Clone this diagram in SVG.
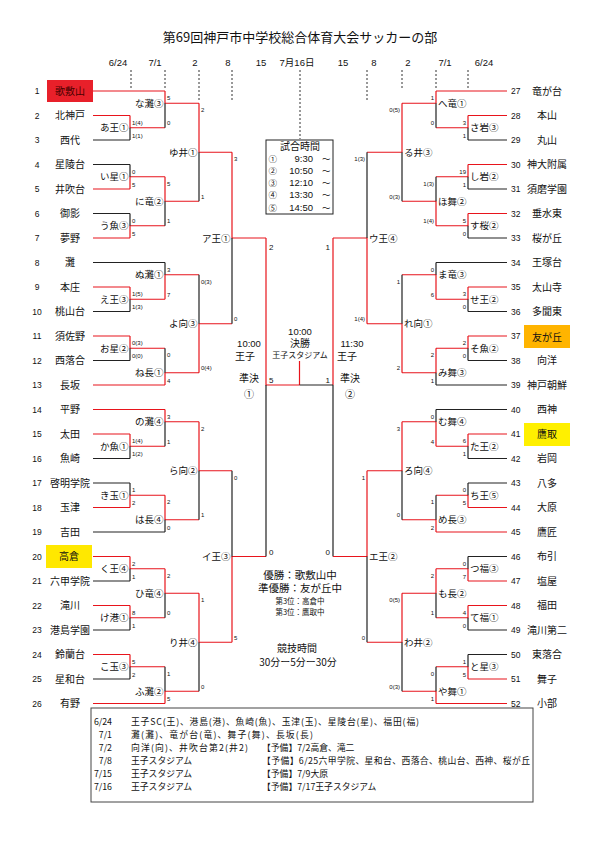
<svg xmlns="http://www.w3.org/2000/svg" width="595" height="842" viewBox="0 0 595 842">
<style>
.ln{fill:none;stroke-width:1.2}
.r{stroke:#e8141c}
.k{stroke:#222}
.dash{fill:none;stroke:#333;stroke-width:1;stroke-dasharray:2 2}
text{fill:#111}
.jp{font-family:"Noto Sans CJK JP",sans-serif}
.nm{font-family:"Noto Sans CJK JP",sans-serif;font-size:10px;text-anchor:middle}
.noL{font-family:"Liberation Sans",sans-serif;font-size:8.5px;text-anchor:middle}
.noR{font-family:"Liberation Sans",sans-serif;font-size:8.5px;text-anchor:start}
.ml{font-family:"Noto Sans CJK JP",sans-serif;font-size:9.5px;text-anchor:end}
.mr{font-family:"Noto Sans CJK JP",sans-serif;font-size:9.5px;text-anchor:start}
.sl{font-family:"Liberation Sans",sans-serif;font-size:6px;text-anchor:start}
.sr{font-family:"Liberation Sans",sans-serif;font-size:6px;text-anchor:end}
.big{font-family:"Liberation Sans",sans-serif;font-size:8px}
.dt{font-family:"Liberation Sans","Noto Sans CJK JP",sans-serif;font-size:9.5px;text-anchor:middle}
.tb{font-family:"Noto Sans CJK JP",sans-serif;font-size:8.8px}
.cn{font-family:"Noto Sans CJK JP",sans-serif;font-size:8.5px}
.tm{font-family:"Liberation Sans",sans-serif;font-size:9.5px;text-anchor:end}
</style>
<rect width="595" height="842" fill="#fff"/>

<g id="header">
<text class="jp" x="300" y="42" font-size="13" text-anchor="middle">第69回神戸市中学校総合体育大会サッカーの部</text>
<text class="dt" x="118" y="66">6/24</text>
<text class="dt" x="155" y="66">7/1</text>
<text class="dt" x="195" y="66">2</text>
<text class="dt" x="228" y="66">8</text>
<text class="dt" x="261" y="66">15</text>
<text class="dt" x="297" y="66">7月16日</text>
<text class="dt" x="343" y="66">15</text>
<text class="dt" x="374" y="66">8</text>
<text class="dt" x="408" y="66">2</text>
<text class="dt" x="445" y="66">7/1</text>
<text class="dt" x="484" y="66">6/24</text>
<path class="dash" d="M131 70V89M165 70V89M199 70V101M232 70V101M300 70V139M367 70V101M402 70V89M436 70V89M468 70V89"/>
</g>

<g id="connectors">
<path class="ln r" d="M93 91H165M93 115.5H130M93 189H130M93 238H130M93 287H130M93 336H130M93 385H165M93 409.5H165M93 434H130M93 507.5H130M93 556.5H130M93 605.5H130M93 654.5H130M93 703.5H165"/>
<path class="ln k" d="M93 140H130M93 164.5H130M93 213.5H130M93 262.5H165M93 311.5H130M93 360.5H130M93 458.5H130M93 483H130M93 532H165M93 581H130M93 630H130M93 679H130"/>
<path class="ln r" d="M130 115.5V127.75H165M165 91V103.25H199M130 189V176.75H165M130 238V225.75H165M165 176.75V201.25H199M199 103.25V152.25H232M130 287V299.25H165M165 299.25V274.75H199M130 336V348.25H165M165 385V372.75H199M199 372.75V323.75H232M232 152.25V238H266M130 434V446.25H165M165 409.5V421.75H199M130 507.5V495.25H165M165 495.25V519.75H199M199 421.75V470.75H232M130 556.5V568.75H165M130 605.5V617.75H165M165 568.75V593.25H199M130 654.5V666.75H165M165 703.5V691.25H199M199 593.25V642.25H232M232 642.25V556.5H266M266 238V385H299.5M299.5 361V385M333 238V385"/>
<path class="ln k" d="M130 127.75V140M165 103.25V127.75M130 164.5V176.75M130 213.5V225.75M165 201.25V225.75M199 152.25V201.25M130 299.25V311.5M165 262.5V274.75M130 348.25V360.5M165 348.25V372.75M199 274.75V323.75M232 238V323.75M130 446.25V458.5M165 421.75V446.25M130 483V495.25M165 519.75V532M199 470.75V519.75M130 568.75V581M130 617.75V630M165 593.25V617.75M130 666.75V679M165 666.75V691.25M199 642.25V691.25M232 470.75V556.5M266 385V556.5M333 385V556.5M333 385H299.5"/>
<path class="ln r" d="M507 91H436M507 115.5H468M507 164.5H468M507 213.5H468M507 287H468M507 336H468M507 434H468M507 507.5H468M507 532H436M507 581H468M507 605.5H468M507 679H468M507 703.5H436"/>
<path class="ln k" d="M507 140H468M507 189H468M507 238H468M507 262.5H436M507 311.5H468M507 360.5H468M507 385H436M507 409.5H436M507 458.5H468M507 483H468M507 556.5H468M507 630H468M507 654.5H468"/>
<path class="ln r" d="M468 115.5V127.75H436M436 91V103.25H402M468 164.5V176.75H436M468 213.5V225.75H436M436 225.75V201.25H402M402 103.25V152.25H367M468 287V299.25H436M436 299.25V274.75H402M468 336V348.25H436M436 348.25V372.75H402M402 372.75V323.75H367M367 323.75V238H333M468 434V446.25H436M436 446.25V421.75H402M468 507.5V495.25H436M436 532V519.75H402M402 421.75V470.75H367M468 581V568.75H436M468 605.5V617.75H436M436 568.75V593.25H402M468 679V666.75H436M436 703.5V691.25H402M402 593.25V642.25H367M367 470.75V556.5H333"/>
<path class="ln k" d="M468 127.75V140M436 103.25V127.75M468 176.75V189M468 225.75V238M436 176.75V201.25M402 152.25V201.25M468 299.25V311.5M436 262.5V274.75M468 348.25V360.5M436 372.75V385M402 274.75V323.75M367 152.25V238M468 446.25V458.5M436 409.5V421.75M468 483V495.25M436 495.25V519.75M402 470.75V519.75M468 556.5V568.75M468 617.75V630M436 593.25V617.75M468 654.5V666.75M436 666.75V691.25M402 642.25V691.25M367 556.5V642.25"/>
</g>

<g id="teams-left">
<g id="t1"><rect x="47" y="80" width="46" height="22" fill="#e8202a"/><text class="noL" x="37" y="94">1</text><text class="nm" x="70" y="94.5" style="fill:#4a0000">歌敷山</text></g>
<g id="t2"><text class="noL" x="37" y="118.5">2</text><text class="nm" x="70" y="119">北神戸</text></g>
<g id="t3"><text class="noL" x="37" y="143">3</text><text class="nm" x="70" y="143.5">西代</text></g>
<g id="t4"><text class="noL" x="37" y="167.5">4</text><text class="nm" x="70" y="168">星陵台</text></g>
<g id="t5"><text class="noL" x="37" y="192">5</text><text class="nm" x="70" y="192.5">井吹台</text></g>
<g id="t6"><text class="noL" x="37" y="216.5">6</text><text class="nm" x="70" y="217">御影</text></g>
<g id="t7"><text class="noL" x="37" y="241">7</text><text class="nm" x="70" y="241.5">夢野</text></g>
<g id="t8"><text class="noL" x="37" y="265.5">8</text><text class="nm" x="70" y="266">灘</text></g>
<g id="t9"><text class="noL" x="37" y="290">9</text><text class="nm" x="70" y="290.5">本庄</text></g>
<g id="t10"><text class="noL" x="37" y="314.5">10</text><text class="nm" x="70" y="315">桃山台</text></g>
<g id="t11"><text class="noL" x="37" y="339">11</text><text class="nm" x="70" y="339.5">須佐野</text></g>
<g id="t12"><text class="noL" x="37" y="363.5">12</text><text class="nm" x="70" y="364">西落合</text></g>
<g id="t13"><text class="noL" x="37" y="388">13</text><text class="nm" x="70" y="388.5">長坂</text></g>
<g id="t14"><text class="noL" x="37" y="412.5">14</text><text class="nm" x="70" y="413">平野</text></g>
<g id="t15"><text class="noL" x="37" y="437">15</text><text class="nm" x="70" y="437.5">太田</text></g>
<g id="t16"><text class="noL" x="37" y="461.5">16</text><text class="nm" x="70" y="462">魚崎</text></g>
<g id="t17"><text class="noL" x="37" y="486">17</text><text class="nm" x="70" y="486.5">啓明学院</text></g>
<g id="t18"><text class="noL" x="37" y="510.5">18</text><text class="nm" x="70" y="511">玉津</text></g>
<g id="t19"><text class="noL" x="37" y="535">19</text><text class="nm" x="70" y="535.5">吉田</text></g>
<g id="t20"><rect x="46" y="545" width="46" height="23" fill="#ffe800"/><text class="noL" x="37" y="559.5">20</text><text class="nm" x="69" y="560">高倉</text></g>
<g id="t21"><text class="noL" x="37" y="584">21</text><text class="nm" x="70" y="584.5">六甲学院</text></g>
<g id="t22"><text class="noL" x="37" y="608.5">22</text><text class="nm" x="70" y="609">滝川</text></g>
<g id="t23"><text class="noL" x="37" y="633">23</text><text class="nm" x="70" y="633.5">港島学園</text></g>
<g id="t24"><text class="noL" x="37" y="657.5">24</text><text class="nm" x="70" y="658">鈴蘭台</text></g>
<g id="t25"><text class="noL" x="37" y="682">25</text><text class="nm" x="70" y="682.5">星和台</text></g>
<g id="t26"><text class="noL" x="37" y="706.5">26</text><text class="nm" x="70" y="707">有野</text></g>
</g>

<g id="teams-right">
<g id="t27"><text class="noR" x="511" y="94">27</text><text class="nm" x="547" y="94.5">竜が台</text></g>
<g id="t28"><text class="noR" x="511" y="118.5">28</text><text class="nm" x="547" y="119">本山</text></g>
<g id="t29"><text class="noR" x="511" y="143">29</text><text class="nm" x="547" y="143.5">丸山</text></g>
<g id="t30"><text class="noR" x="511" y="167.5">30</text><text class="nm" x="547" y="168">神大附属</text></g>
<g id="t31"><text class="noR" x="511" y="192">31</text><text class="nm" x="547" y="192.5">須磨学園</text></g>
<g id="t32"><text class="noR" x="511" y="216.5">32</text><text class="nm" x="547" y="217">垂水東</text></g>
<g id="t33"><text class="noR" x="511" y="241">33</text><text class="nm" x="547" y="241.5">桜が丘</text></g>
<g id="t34"><text class="noR" x="511" y="265.5">34</text><text class="nm" x="547" y="266">王塚台</text></g>
<g id="t35"><text class="noR" x="511" y="290">35</text><text class="nm" x="547" y="290.5">太山寺</text></g>
<g id="t36"><text class="noR" x="511" y="314.5">36</text><text class="nm" x="547" y="315">多聞東</text></g>
<g id="t37"><rect x="524" y="325" width="46" height="23" fill="#ffb400"/><text class="noR" x="511" y="339">37</text><text class="nm" x="547" y="340.5" font-size="11.5">友が丘</text></g>
<g id="t38"><text class="noR" x="511" y="363.5">38</text><text class="nm" x="547" y="364">向洋</text></g>
<g id="t39"><text class="noR" x="511" y="388">39</text><text class="nm" x="547" y="388.5">神戸朝鮮</text></g>
<g id="t40"><text class="noR" x="511" y="412.5">40</text><text class="nm" x="547" y="413">西神</text></g>
<g id="t41"><rect x="524" y="423" width="46" height="23" fill="#fff000"/><text class="noR" x="511" y="437">41</text><text class="nm" x="547" y="438">鷹取</text></g>
<g id="t42"><text class="noR" x="511" y="461.5">42</text><text class="nm" x="547" y="462">岩岡</text></g>
<g id="t43"><text class="noR" x="511" y="486">43</text><text class="nm" x="547" y="486.5">八多</text></g>
<g id="t44"><text class="noR" x="511" y="510.5">44</text><text class="nm" x="547" y="511">大原</text></g>
<g id="t45"><text class="noR" x="511" y="535">45</text><text class="nm" x="547" y="535.5">鷹匠</text></g>
<g id="t46"><text class="noR" x="511" y="559.5">46</text><text class="nm" x="547" y="560">布引</text></g>
<g id="t47"><text class="noR" x="511" y="584">47</text><text class="nm" x="547" y="584.5">塩屋</text></g>
<g id="t48"><text class="noR" x="511" y="608.5">48</text><text class="nm" x="547" y="609">福田</text></g>
<g id="t49"><text class="noR" x="511" y="633">49</text><text class="nm" x="547" y="633.5">滝川第二</text></g>
<g id="t50"><text class="noR" x="511" y="657.5">50</text><text class="nm" x="547" y="658">東落合</text></g>
<g id="t51"><text class="noR" x="511" y="682">51</text><text class="nm" x="547" y="682.5">舞子</text></g>
<g id="t52"><text class="noR" x="511" y="706.5">52</text><text class="nm" x="547" y="707">小部</text></g>
</g>

<g id="matches-left">
<g id="mA"><text class="ml" x="128.5" y="131.25">あ王①</text><text class="sl" x="132" y="124.5">1(4)</text><text class="sl" x="132" y="137.5">1(1)</text></g>
<g id="mB"><text class="ml" x="163.5" y="106.75">な灘③</text><text class="sl" x="167" y="100">5</text><text class="sl" x="167" y="125.25">0</text></g>
<g id="mC"><text class="ml" x="128.5" y="180.25">い星①</text><text class="sl" x="132" y="173.5">0</text><text class="sl" x="132" y="186.5">5</text></g>
<g id="mD"><text class="ml" x="128.5" y="229.25">う魚③</text><text class="sl" x="132" y="222.5">0</text><text class="sl" x="132" y="235.5">5</text></g>
<g id="mE"><text class="ml" x="163.5" y="204.75">に竜②</text><text class="sl" x="167" y="185.75">5</text><text class="sl" x="167" y="223.25">1</text></g>
<g id="mF"><text class="ml" x="197.5" y="155.75">ゆ井①</text><text class="sl" x="201" y="112.25">2</text><text class="sl" x="201" y="198.75">1</text></g>
<g id="mG"><text class="ml" x="128.5" y="302.75">え王③</text><text class="sl" x="132" y="296">1(5)</text><text class="sl" x="132" y="309">1(3)</text></g>
<g id="mH"><text class="ml" x="163.5" y="278.25">ぬ灘①</text><text class="sl" x="167" y="271.5">3</text><text class="sl" x="167" y="296.75">7</text></g>
<g id="mI"><text class="ml" x="128.5" y="351.75">お星②</text><text class="sl" x="132" y="345">0(3)</text><text class="sl" x="132" y="358">0(0)</text></g>
<g id="mJ"><text class="ml" x="163.5" y="376.25">ね長①</text><text class="sl" x="167" y="357.25">0</text><text class="sl" x="167" y="382.5">4</text></g>
<g id="mK"><text class="ml" x="197.5" y="327.25">よ向③</text><text class="sl" x="201" y="283.75">0(3)</text><text class="sl" x="201" y="370.25">0(4)</text></g>
<g id="mL"><text class="ml" x="230.5" y="241.5">ア王①</text><text class="sl" x="234" y="161.25">3</text><text class="sl" x="234" y="321.25">0</text></g>
<g id="mM"><text class="ml" x="128.5" y="449.75">か魚①</text><text class="sl" x="132" y="443">1(4)</text><text class="sl" x="132" y="456">1(2)</text></g>
<g id="mN"><text class="ml" x="163.5" y="425.25">の灘④</text><text class="sl" x="167" y="418.5">3</text><text class="sl" x="167" y="443.75">1</text></g>
<g id="mO"><text class="ml" x="128.5" y="498.75">き玉①</text><text class="sl" x="132" y="492">1</text><text class="sl" x="132" y="505">2</text></g>
<g id="mP"><text class="ml" x="163.5" y="523.25">は長④</text><text class="sl" x="167" y="504.25">2</text><text class="sl" x="167" y="529.5">0</text></g>
<g id="mQ"><text class="ml" x="197.5" y="474.25">ら向②</text><text class="sl" x="201" y="430.75">2</text><text class="sl" x="201" y="517.25">1</text></g>
<g id="mR"><text class="ml" x="128.5" y="572.25">く王④</text><text class="sl" x="132" y="565.5">2</text><text class="sl" x="132" y="578.5">1</text></g>
<g id="mS"><text class="ml" x="128.5" y="621.25">け港①</text><text class="sl" x="132" y="614.5">8</text><text class="sl" x="132" y="627.5">1</text></g>
<g id="mT"><text class="ml" x="163.5" y="596.75">ひ竜④</text><text class="sl" x="167" y="577.75">2</text><text class="sl" x="167" y="615.25">0</text></g>
<g id="mU"><text class="ml" x="128.5" y="670.25">こ玉③</text><text class="sl" x="132" y="663.5">5</text><text class="sl" x="132" y="676.5">2</text></g>
<g id="mV"><text class="ml" x="163.5" y="694.75">ふ灘②</text><text class="sl" x="167" y="675.75">1</text><text class="sl" x="167" y="701">5</text></g>
<g id="mW"><text class="ml" x="197.5" y="645.75">り井④</text><text class="sl" x="201" y="602.25">1</text><text class="sl" x="201" y="688.75">0</text></g>
<g id="mX"><text class="ml" x="230.5" y="560">イ王③</text><text class="sl" x="234" y="479.75">0</text><text class="sl" x="234" y="639.75">5</text></g>
</g>

<g id="matches-right">
<g id="ma"><text class="mr" x="470" y="131.25">さ岩③</text><text class="sr" x="466" y="124.5">3</text><text class="sr" x="466" y="137.5">1</text></g>
<g id="mb"><text class="mr" x="438" y="106.75">へ竜①</text><text class="sr" x="434" y="100">1</text><text class="sr" x="434" y="125.25">0</text></g>
<g id="mc"><text class="mr" x="470" y="180.25">し岩②</text><text class="sr" x="466" y="173.5">19</text><text class="sr" x="466" y="186.5">1</text></g>
<g id="md"><text class="mr" x="470" y="229.25">す桜②</text><text class="sr" x="466" y="222.5">5</text><text class="sr" x="466" y="235.5">0</text></g>
<g id="me"><text class="mr" x="438" y="204.75">ほ舞②</text><text class="sr" x="434" y="185.75">1(3)</text><text class="sr" x="434" y="223.25">1(4)</text></g>
<g id="mf"><text class="mr" x="404" y="155.75">る井③</text><text class="sr" x="400" y="112.25">0(5)</text><text class="sr" x="400" y="198.75">0(3)</text></g>
<g id="mg"><text class="mr" x="470" y="302.75">せ王②</text><text class="sr" x="466" y="296">3</text><text class="sr" x="466" y="309">0</text></g>
<g id="mh"><text class="mr" x="438" y="278.25">ま竜③</text><text class="sr" x="434" y="271.5">0</text><text class="sr" x="434" y="296.75">6</text></g>
<g id="mi"><text class="mr" x="470" y="351.75">そ魚②</text><text class="sr" x="466" y="345">2</text><text class="sr" x="466" y="358">0</text></g>
<g id="mj"><text class="mr" x="438" y="376.25">み舞③</text><text class="sr" x="434" y="357.25">2</text><text class="sr" x="434" y="382.5">1</text></g>
<g id="mk"><text class="mr" x="404" y="327.25">れ向①</text><text class="sr" x="400" y="283.75">1</text><text class="sr" x="400" y="370.25">2</text></g>
<g id="ml"><text class="mr" x="369" y="241.5">ウ王④</text><text class="sr" x="365" y="161.25">1(3)</text><text class="sr" x="365" y="321.25">1(4)</text></g>
<g id="mm"><text class="mr" x="470" y="449.75">た王②</text><text class="sr" x="466" y="443">6</text><text class="sr" x="466" y="456">1</text></g>
<g id="mn"><text class="mr" x="438" y="425.25">む舞④</text><text class="sr" x="434" y="418.5">0</text><text class="sr" x="434" y="443.75">4</text></g>
<g id="mo"><text class="mr" x="470" y="498.75">ち王⑤</text><text class="sr" x="466" y="492">0</text><text class="sr" x="466" y="505">5</text></g>
<g id="mp"><text class="mr" x="438" y="523.25">め長③</text><text class="sr" x="434" y="504.25">1</text><text class="sr" x="434" y="529.5">2</text></g>
<g id="mq"><text class="mr" x="404" y="474.25">ろ向④</text><text class="sr" x="400" y="430.75">3</text><text class="sr" x="400" y="517.25">0</text></g>
<g id="mr"><text class="mr" x="470" y="572.25">つ福③</text><text class="sr" x="466" y="565.5">0</text><text class="sr" x="466" y="578.5">7</text></g>
<g id="ms"><text class="mr" x="470" y="621.25">て福①</text><text class="sr" x="466" y="614.5">4</text><text class="sr" x="466" y="627.5">0</text></g>
<g id="mt"><text class="mr" x="438" y="596.75">も長②</text><text class="sr" x="434" y="577.75">2</text><text class="sr" x="434" y="615.25">1</text></g>
<g id="mu"><text class="mr" x="470" y="670.25">と星③</text><text class="sr" x="466" y="663.5">1</text><text class="sr" x="466" y="676.5">5</text></g>
<g id="mv"><text class="mr" x="438" y="694.75">や舞①</text><text class="sr" x="434" y="675.75">0</text><text class="sr" x="434" y="701">1</text></g>
<g id="mw"><text class="mr" x="404" y="645.75">わ井②</text><text class="sr" x="400" y="602.25">0(5)</text><text class="sr" x="400" y="688.75">0(3)</text></g>
<g id="mx"><text class="mr" x="369" y="560">エ王②</text><text class="sr" x="365" y="479.75">1</text><text class="sr" x="365" y="639.75">0</text></g>
</g>

<g id="semifinal-1">
<text class="big" x="269" y="250">2</text>
<text class="big" x="269" y="555">0</text>
<text class="dt" x="249" y="346.5">10:00</text>
<text class="jp" x="245" y="359.5" font-size="10" text-anchor="middle">王子</text>
<text class="jp" x="249" y="382" font-size="10" text-anchor="middle">準決</text>
<text class="jp" x="249" y="397.5" font-size="10" text-anchor="middle">①</text>
</g>
<g id="semifinal-2">
<text class="big" x="330" y="250" text-anchor="end">1</text>
<text class="big" x="330" y="555" text-anchor="end">0</text>
<text class="dt" x="352" y="346.5">11:30</text>
<text class="jp" x="347" y="359.5" font-size="10" text-anchor="middle">王子</text>
<text class="jp" x="350" y="382" font-size="10" text-anchor="middle">準決</text>
<text class="jp" x="350" y="397.5" font-size="10" text-anchor="middle">②</text>
</g>
<g id="final">
<text class="big" x="269" y="382.5">5</text>
<text class="big" x="330" y="382.5" text-anchor="end">1</text>
<text class="dt" x="300" y="334.5">10:00</text>
<text class="jp" x="300" y="347" font-size="10" text-anchor="middle">決勝</text>
<text class="jp" x="300" y="358" font-size="8" text-anchor="middle">王子スタジアム</text>
</g>

<g id="schedule-box">
<rect x="266" y="140" width="67" height="74" fill="#fff" stroke="#222" stroke-width="1"/>
<text class="jp" x="300" y="150" font-size="10" text-anchor="middle">試合時間</text>
<text class="cn" x="268.5" y="161.5">①</text><text class="tm" x="313" y="161.5">9:30</text><text class="cn" x="322" y="161.5">～</text>
<text class="cn" x="268.5" y="173.8">②</text><text class="tm" x="313" y="173.8">10:50</text><text class="cn" x="322" y="173.8">～</text>
<text class="cn" x="268.5" y="186.1">③</text><text class="tm" x="313" y="186.1">12:10</text><text class="cn" x="322" y="186.1">～</text>
<text class="cn" x="268.5" y="198.4">④</text><text class="tm" x="313" y="198.4">13:30</text><text class="cn" x="322" y="198.4">～</text>
<text class="cn" x="268.5" y="210.7">⑤</text><text class="tm" x="313" y="210.7">14:50</text><text class="cn" x="322" y="210.7">～</text>
</g>

<g id="results">
<text class="jp" x="300" y="578.5" font-size="10.5" text-anchor="middle">優勝：歌敷山中</text>
<text class="jp" x="300" y="592" font-size="10.5" text-anchor="middle">準優勝：友が丘中</text>
<text class="jp" x="300" y="604" font-size="7.5" text-anchor="middle">第3位：高倉中</text>
<text class="jp" x="300" y="615" font-size="7.5" text-anchor="middle">第3位：鷹取中</text>
<text class="jp" x="297" y="652" font-size="10" text-anchor="middle">競技時間</text>
<text class="jp" x="298" y="666" font-size="10" text-anchor="middle">30分ー5分ー30分</text>
</g>

<g id="table">
<rect x="91" y="708" width="442" height="94" fill="none" stroke="#444" stroke-width="1"/>
<g class="tb">
<text x="112" y="725" text-anchor="end">6/24</text><text x="131" y="725" textLength="288" lengthAdjust="spacing">王子SC(王)、港島(港)、魚崎(魚)、玉津(玉)、星陵台(星)、福田(福)</text>
<text x="112" y="738" text-anchor="end">7/1</text><text x="131" y="738" textLength="182" lengthAdjust="spacing">灘(灘)、竜が台(竜)、舞子(舞)、長坂(長)</text>
<text x="112" y="751" text-anchor="end">7/2</text><text x="131" y="751" textLength="117" lengthAdjust="spacing">向洋(向)、井吹台第2(井2)</text><text x="262" y="751">【予備】7/2高倉、滝二</text>
<text x="112" y="764" text-anchor="end">7/8</text><text x="131" y="764">王子スタジアム</text><text x="262" y="764" textLength="268" lengthAdjust="spacing">【予備】6/25六甲学院、星和台、西落合、桃山台、西神、桜が丘</text>
<text x="112" y="777" text-anchor="end">7/15</text><text x="131" y="777">王子スタジアム</text><text x="262" y="777">【予備】7/9大原</text>
<text x="112" y="790" text-anchor="end">7/16</text><text x="131" y="790">王子スタジアム</text><text x="262" y="790">【予備】7/17王子スタジアム</text>
</g>
</g>
</svg>
